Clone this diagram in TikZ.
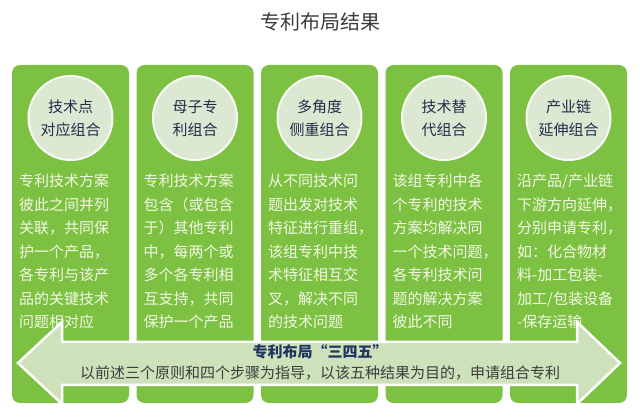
\documentclass[tikz,border=0pt]{standalone}
\usepackage{fontspec}
\setmainfont{Noto Sans CJK SC}
\definecolor{colgreen}{HTML}{7DC143}
\definecolor{circfill}{HTML}{DCE8D2}
\definecolor{circtext}{HTML}{1F2D4A}
\definecolor{bodytext}{HTML}{F3F8E4}
\definecolor{arrowfill}{HTML}{CDE2BB}
\definecolor{titlegray}{HTML}{3C3C3C}
\definecolor{navy}{HTML}{1F3560}
\tikzset{
  col/.style={fill=colgreen, draw=none, rounded corners=8pt, minimum width=117pt, minimum height=338pt, inner sep=0pt},
  circ/.style={circle, fill=circfill, draw=white!80!circfill, line width=2pt, minimum size=84pt, inner sep=0pt, align=center, text=circtext, font=\fontsize{15}{23}\selectfont},
  bodytxt/.style={anchor=north west, inner sep=0pt, align=left, text=bodytext, font=\fontsize{15}{23.5}\selectfont},
  arrowshape/.style={fill=arrowfill, draw=white, line width=2.5pt, line join=miter},
}
\begin{document}
\begin{tikzpicture}[x=1pt,y=-1pt]
\useasboundingbox (0,0) rectangle (640,419);
\node[text=titlegray, font=\fontsize{20}{24}\selectfont] (title) at (320,22) {专利布局结果};
% columns
\node[col] (c1) at (70.5,234) {};
\node[col] (c2) at (195,234) {};
\node[col] (c3) at (319.5,234) {};
\node[col] (c4) at (444,234) {};
\node[col] (c5) at (568.5,234) {};
% circles
\node[circ] (k1) at (70.5,118) {技术点\\对应组合};
\node[circ] (k2) at (195,118) {母子专\\利组合};
\node[circ] (k3) at (319.5,118) {多角度\\侧重组合};
\node[circ] (k4) at (444,118) {技术替\\代组合};
\node[circ] (k5) at (568.5,118) {产业链\\延伸组合};
% body texts
\node[bodytxt] (b1) at (19,174) {专利技术方案\\彼此之间并列\\关联，共同保\\护一个产品，\\各专利与该产\\品的关键技术\\问题相对应};
\node[bodytxt] (b2) at (143.5,174) {专利技术方案\\包含（或包含\\于）其他专利\\中，每两个或\\多个各专利相\\互支持，共同\\保护一个产品};
\node[bodytxt] (b3) at (268,174) {从不同技术问\\题出发对技术\\特征进行重组，\\该组专利中技\\术特征相互交\\叉，解决不同\\的技术问题};
\node[bodytxt] (b4) at (392.5,174) {该组专利中各\\个专利的技术\\方案均解决同\\一个技术问题，\\各专利技术问\\题的解决方案\\彼此不同};
\node[bodytxt] (b5) at (517,174) {沿产品/产业链\\下游方向延伸，\\分别申请专利，\\如：化合物材\\料-加工包装-\\加工/包装设备\\-保存运输};
% double arrow
\draw[arrowshape] (18,363) -- (62,322) -- (62,342) -- (577,342) -- (577,322) -- (620,363) -- (577,404) -- (577,385) -- (62,385) -- (62,404) -- cycle;
\node[text=navy, font=\fontsize{15}{18}\selectfont\bfseries] (a1) at (320,352) {专利布局“三四五”};
\node[text=titlegray, font=\fontsize{15}{18}\selectfont] (a2) at (320,373) {以前述三个原则和四个步骤为指导，以该五种结果为目的，申请组合专利};
\end{tikzpicture}
\end{document}
